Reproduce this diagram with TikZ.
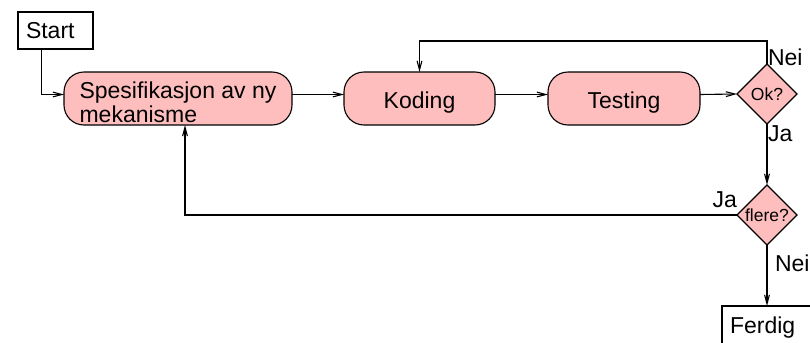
\documentclass[tikz,border=0pt]{standalone}
\usepackage{fontspec}
\setmainfont{Liberation Sans}
\usetikzlibrary{arrows.meta,shapes.geometric}
\definecolor{stepfill}{RGB}{255,190,190}
% taller first line, so the label sits a little below the box centre
\newcommand{\padtop}{\rule{0pt}{12.3pt}}
\begin{document}
\begin{tikzpicture}[x=0.5pt,y=-0.5pt,
  line width=0.55pt,
  every node/.style={inner sep=0pt, outer sep=0pt},
  mainfont/.style={font=\fontsize{11.5}{10.5}\selectfont},
  smallfont/.style={font=\fontsize{8.75}{10}\selectfont},
  termbox/.style={draw, rectangle, mainfont, align=left, inner xsep=4pt},
  stepbox/.style={draw, fill=stepfill, rounded corners=10pt, mainfont,
    minimum height=26.5pt, align=left},
  decision/.style={draw, fill=stepfill, diamond, smallfont, aspect=1,
    minimum width=30pt, minimum height=30pt},
  arr/.style={-{Straight Barb[length=4.5pt,width=2.4pt]}},
  lbl/.style={mainfont}]
\useasboundingbox (0,0) rectangle (810,343);
\clip (0,0) rectangle (810,343);

% terminals
\node[termbox, text width=29.5pt, minimum height=18.5pt] (start) at (55.5,30.5) {Start};
\node[termbox, text width=41pt, minimum height=22pt, anchor=north west] (ferdig) at (722,306) {Ferdig};

% process steps
\node[stepbox, minimum width=114pt] (spes) at (178,98.5) {\padtop Spesifikasjon av ny\\mekanisme};
\node[stepbox, minimum width=75.5pt] (kod) at (419.5,98.5) {\padtop Koding};
\node[stepbox, minimum width=76pt] (tst) at (624,98.5) {\padtop Testing};

% decisions
\node[decision] (ok) at (767,94) {Ok?};
\node[decision] (fl) at (767,215) {flere?};

% routing helpers
\coordinate (row) at (0,94.5);
\coordinate (top) at (0,41);

% main flow
\draw[arr] ([xshift=-7pt]start.south) |- (spes.west |- row);
\draw[arr] (spes.east |- row) -- (kod.west |- row);
\draw[arr] (kod.east |- row) -- (tst.west |- row);
\draw[arr] (tst.east |- row) -- (ok.west);

% test failed: back to coding
\draw[arr] (ok.north) -- (ok.north |- top) -| (kod.north);
% test passed
\draw[arr] (ok.south) -- (fl.north);
% more mechanisms: back to specification
\draw[arr] (fl.west) -| ([xshift=3.5pt]spes.south);
% done
\draw[arr] (fl.south) -- (fl.south |- ferdig.north);

% branch labels
\node[lbl, anchor=base west] (okNei) at (768,65) {Nei};
\node[lbl, anchor=base west] (okJa) at (768,141) {Ja};
\node[lbl, anchor=base east] (flJa) at (737,207) {Ja};
\node[lbl, anchor=base west] (flNei) at (775,271) {Nei};
\end{tikzpicture}
\end{document}
